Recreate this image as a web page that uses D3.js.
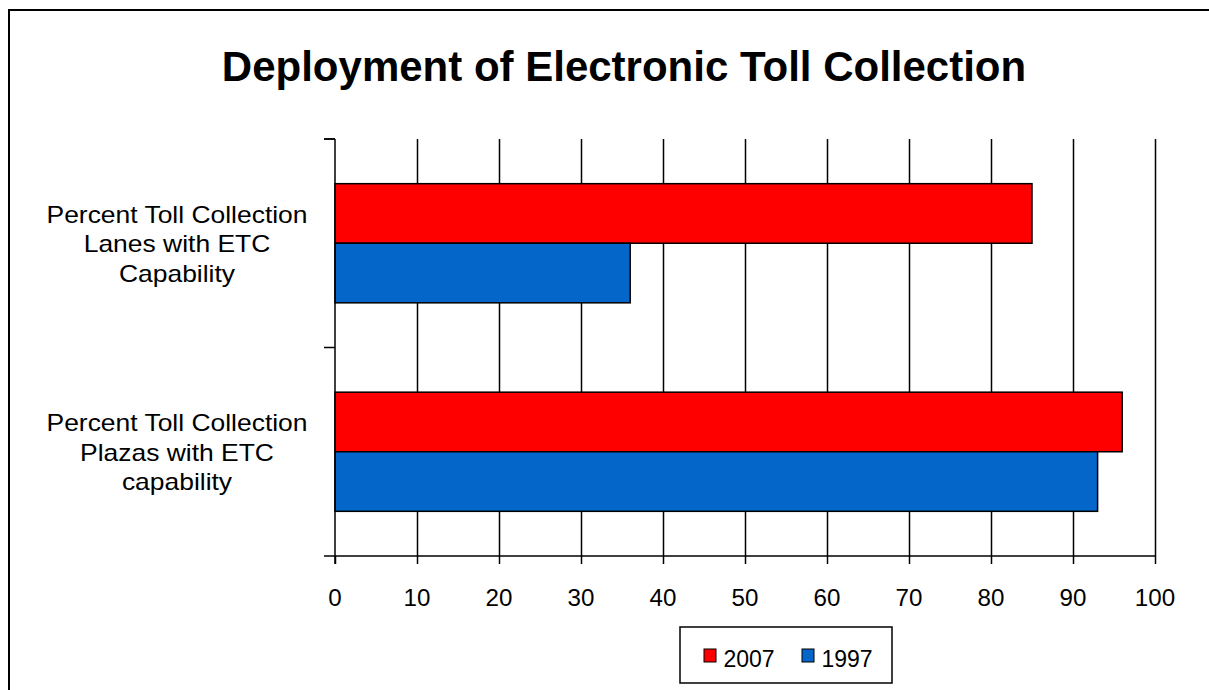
<!DOCTYPE html>
<html>
<head>
<meta charset="utf-8">
<script src="https://cdn.jsdelivr.net/npm/d3@7"></script>
<style>
  body { margin: 0; background: #fff; }
  text { font-family: Arial, 'Liberation Sans', sans-serif; fill: #000; }
</style>
</head>
<body>
<div id="chart"></div>
<script>
const categories = [
  ['Percent Toll Collection', 'Lanes with ETC', 'Capability'],
  ['Percent Toll Collection', 'Plazas with ETC', 'capability'],
];
const seriesNames = ['2007', '1997'];
const values2007 = [85, 96];
const values1997 = [36, 93];
const xTicks = [0, 10, 20, 30, 40, 50, 60, 70, 80, 90, 100];
const title = 'Deployment of Electronic Toll Collection';

const colors = { '2007': '#ff0000', '1997': '#0466c8' };

const width = 1209;
const height = 690;
const plot = { left: 335, right: 1155, top: 139, bottom: 556 };

const svg = d3.select('#chart').append('svg').attr('width', width).attr('height', height);

// chart area border (only top and left visible in the picture)
svg.append('rect')
  .attr('x', 9).attr('y', 10)
  .attr('width', 1220).attr('height', 720)
  .attr('fill', 'none').attr('stroke', '#000').attr('stroke-width', 2);

// source text is rendered a bit wider than the font, so allow a horizontal stretch
const stretchedText = (sel, x, y, str, size, sx, weight) => {
  sel.append('g')
    .attr('transform', `translate(${x},${y}) scale(${sx},1)`)
    .append('text')
    .attr('text-anchor', 'middle')
    .attr('font-size', size)
    .attr('font-weight', weight || 'normal')
    .text(str);
};

stretchedText(svg, 624, 81, title, 42, 1, 'bold');

const data = categories.map((c, i) => ({
  key: i,
  lines: c,
  series: [
    { name: '2007', value: values2007[i] },
    { name: '1997', value: values1997[i] },
  ],
}));

const xScale = d3.scaleLinear().domain([0, 100]).range([plot.left, plot.right]);
const yScale = d3.scaleBand().domain(data.map((d) => d.key)).range([plot.top, plot.bottom]).padding(0);
const inner = d3.scaleBand().domain(seriesNames).range([0, yScale.bandwidth()]).paddingInner(0).paddingOuter(0.75);

// vertical gridlines
const grid = d3.axisBottom(xScale).tickValues(xTicks.slice(1)).tickSize(-(plot.bottom - plot.top)).tickFormat('');
svg.append('g')
  .attr('transform', `translate(0,${plot.bottom})`)
  .call(grid)
  .call((g) => g.select('.domain').remove())
  .selectAll('line').attr('stroke', '#000').attr('stroke-width', 1.5);

// bars
const groups = svg.selectAll('.cat')
  .data(data)
  .enter()
  .append('g')
  .attr('transform', (d) => `translate(0,${yScale(d.key)})`);

groups.selectAll('rect')
  .data((d) => d.series)
  .enter()
  .append('rect')
  .attr('x', xScale(0))
  .attr('y', (d) => inner(d.name))
  .attr('width', (d) => xScale(d.value) - xScale(0))
  .attr('height', inner.bandwidth())
  .attr('fill', (d) => colors[d.name])
  .attr('stroke', '#000')
  .attr('stroke-width', 1.5);

// x axis
const xAxis = d3.axisBottom(xScale).tickValues(xTicks).tickSize(8).tickFormat('');
const xg = svg.append('g').attr('transform', `translate(0,${plot.bottom})`).call(xAxis);
xg.select('.domain').remove();
xg.selectAll('line').attr('stroke', '#000').attr('stroke-width', 1.5);
svg.append('line')
  .attr('x1', plot.left - 11).attr('x2', plot.right)
  .attr('y1', plot.bottom).attr('y2', plot.bottom)
  .attr('stroke', '#000').attr('stroke-width', 1.5);
xTicks.forEach((t) => stretchedText(svg, xScale(t), 606, t, 23, 1.05));

// y axis with ticks between categories
const yAxis = d3.axisLeft(yScale).tickSize(11).tickFormat('');
const yg = svg.append('g').attr('transform', `translate(${plot.left},0)`).call(yAxis);
yg.select('.domain').remove();
yg.selectAll('.tick').attr('transform', (d) => `translate(0,${yScale(d)})`);
yg.selectAll('line').attr('stroke', '#000').attr('stroke-width', 1.5);
svg.append('line')
  .attr('x1', plot.left).attr('x2', plot.left)
  .attr('y1', plot.top).attr('y2', plot.bottom + 8)
  .attr('stroke', '#000').attr('stroke-width', 1.5);
svg.append('line')
  .attr('x1', plot.left - 11).attr('x2', plot.left)
  .attr('y1', plot.top).attr('y2', plot.top)
  .attr('stroke', '#000').attr('stroke-width', 1.5);

// category labels
data.forEach((d) => {
  const cy = yScale(d.key) + yScale.bandwidth() / 2;
  d.lines.forEach((line, i) => stretchedText(svg, 177, cy + 9 + (i - 1) * 29.5, line, 23, 1.15));
});

// legend
const legend = svg.append('g').attr('transform', 'translate(680,627)');
legend.append('rect')
  .attr('width', 212).attr('height', 56)
  .attr('fill', '#fff').attr('stroke', '#000').attr('stroke-width', 1.5);
const legendX = d3.scalePoint().domain(seriesNames).range([24, 122]);
seriesNames.forEach((s) => {
  legend.append('rect')
    .attr('x', legendX(s)).attr('y', 22)
    .attr('width', 12).attr('height', 13)
    .attr('fill', colors[s]).attr('stroke', '#000').attr('stroke-width', 1);
  stretchedText(legend, legendX(s) + 45, 40, s, 23, 1);
});
</script>
</body>
</html>
